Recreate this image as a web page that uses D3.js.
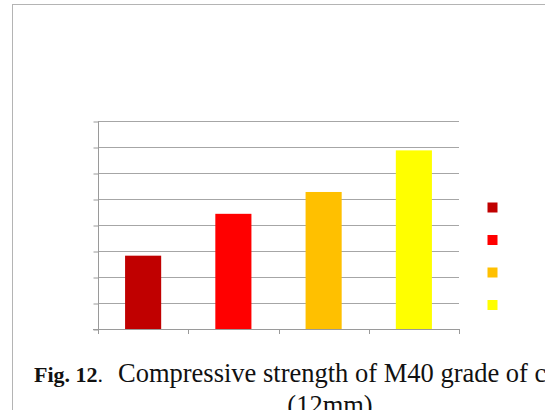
<!DOCTYPE html>
<html>
<head>
<meta charset="utf-8">
<script src="https://cdn.jsdelivr.net/npm/d3@7/dist/d3.min.js"></script>
<style>
  html, body { margin: 0; padding: 0; background: #fff; overflow: hidden; }
  svg { display: block; }
</style>
</head>
<body>
<svg id="chart" width="545" height="410"></svg>
<script>
// Mixes and their compressive strength (MPa)
const mixes = ["Mix 1", "Mix 2", "Mix 3", "Mix 4"];
const strength = [28.2, 44.3, 52.7, 68.7];
const barColors = ["#C00000", "#FF0000", "#FFC000", "#FFFF00"];
const yTicks = [0, 10, 20, 30, 40, 50, 60, 70, 80];

const svg = d3.select("#chart");

// outer frame of the chart area
svg.append("rect")
  .attr("x", 12.5).attr("y", 4.5)
  .attr("width", 560).attr("height", 440)
  .attr("fill", "#fff")
  .attr("stroke", "#b4b4b4").attr("stroke-width", 1);

const plot = { left: 98, right: 459, top: 121, bottom: 329 };

const x = d3.scaleBand()
  .domain(mixes)
  .range([plot.left, plot.right])
  .paddingInner(0.6)
  .paddingOuter(0.3);

const y = d3.scaleLinear()
  .domain([0, 80])
  .range([plot.bottom, plot.top]);

// horizontal gridlines
svg.append("g")
  .selectAll("line")
  .data(yTicks.slice(1))
  .join("line")
  .attr("x1", plot.left).attr("x2", plot.right)
  .attr("y1", d => Math.round(y(d)) + 0.5)
  .attr("y2", d => Math.round(y(d)) + 0.5)
  .attr("stroke", "#a6a6a6").attr("stroke-width", 1);

// y axis (no labels)
const yAxis = svg.append("g")
  .attr("transform", `translate(${plot.left + 0.5},0.5)`)
  .call(d3.axisLeft(y).tickValues(yTicks).tickSize(5).tickFormat(""));
yAxis.selectAll("path,line").attr("stroke", "#9a9a9a");
yAxis.select(".domain").attr("d", `M0,${plot.top}V${plot.bottom}`);

// x axis with tick marks between categories (no labels)
const xEdges = d3.range(mixes.length + 1).map(i => plot.left + i * (plot.right - plot.left) / mixes.length);
const xg = svg.append("g");
xg.append("line")
  .attr("x1", plot.left - 5).attr("x2", plot.right)
  .attr("y1", plot.bottom + 0.5).attr("y2", plot.bottom + 0.5)
  .attr("stroke", "#9a9a9a");
xg.selectAll("line.tk")
  .data(xEdges)
  .join("line")
  .attr("class", "tk")
  .attr("x1", d => Math.round(d) + 0.5).attr("x2", d => Math.round(d) + 0.5)
  .attr("y1", plot.bottom).attr("y2", plot.bottom + 5)
  .attr("stroke", "#9a9a9a");

// bars
svg.append("g")
  .selectAll("rect")
  .data(mixes)
  .join("rect")
  .attr("x", d => x(d))
  .attr("width", x.bandwidth())
  .attr("y", (d, i) => y(strength[i]))
  .attr("height", (d, i) => y(0) - y(strength[i]))
  .attr("fill", (d, i) => barColors[i]);

// legend swatches
const legend = svg.append("g").attr("transform", "translate(487.5,202.5)");
legend.selectAll("rect")
  .data(mixes)
  .join("rect")
  .attr("x", 0)
  .attr("y", (d, i) => i * 32.5)
  .attr("width", 10).attr("height", 10)
  .attr("fill", (d, i) => barColors[i]);

// caption (runs past the right edge of the frame)
const serif = "'Liberation Serif', 'Times New Roman', serif";
const cap = svg.append("text")
  .attr("x", 34).attr("y", 382)
  .attr("font-family", serif)
  .attr("fill", "#111");
cap.append("tspan").attr("font-weight", "bold").attr("font-size", 22).text("Fig. 12");
cap.append("tspan").attr("font-size", 22).text(".");
cap.append("tspan").attr("font-size", 26.5).attr("x", 118).text("Compressive strength of M40 grade of concrete");

svg.append("text")
  .attr("x", 330).attr("y", 414)
  .attr("text-anchor", "middle")
  .attr("font-family", serif)
  .attr("font-size", 26.5)
  .attr("fill", "#111")
  .text("(12mm)");
</script>
</body>
</html>
